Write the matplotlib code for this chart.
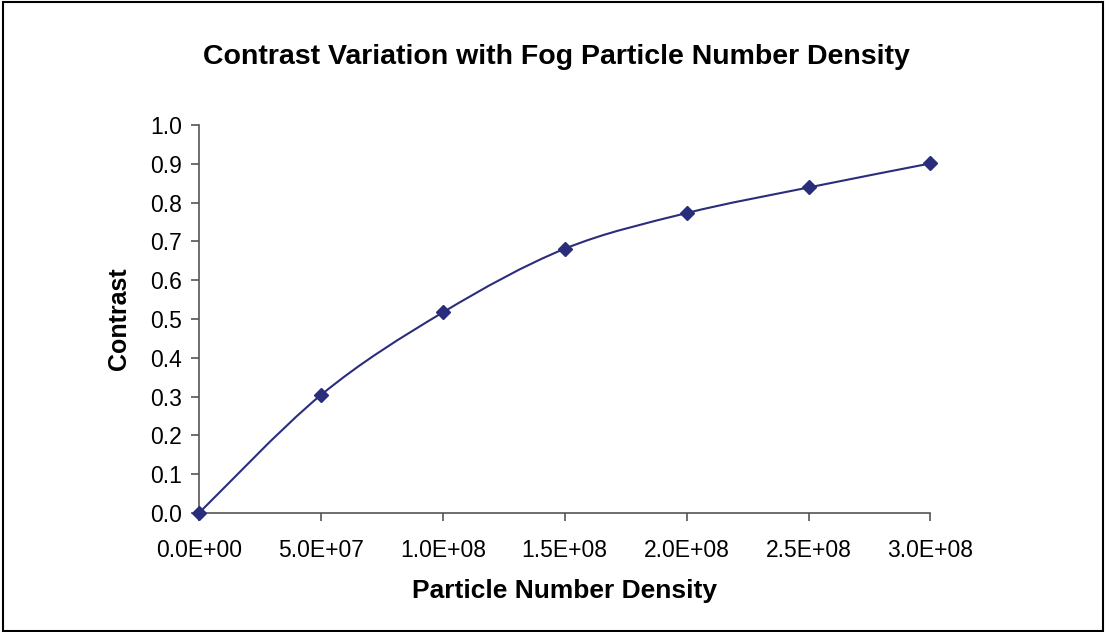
import matplotlib
matplotlib.use("Agg")
import matplotlib.pyplot as plt
from matplotlib.path import Path
from matplotlib.patches import PathPatch, Rectangle
from matplotlib.ticker import FuncFormatter, MultipleLocator

plt.rcParams["font.family"] = ["Liberation Sans", "DejaVu Sans"]

# データ
density = [0, 5.0e7, 1.0e8, 1.5e8, 2.0e8, 2.5e8, 3.0e8]
contrast = [0.0, 0.304, 0.517, 0.681, 0.773, 0.839, 0.901]

title = "Contrast Variation with Fog Particle Number Density"
xlabel = "Particle Number Density"
ylabel = "Contrast"

line_color = "#2a2d7c"
axis_color = "#555555"

fig = plt.figure(figsize=(11.06, 6.32), dpi=100)
ax = fig.add_axes([0.1799, 0.1883, 0.8413 - 0.1799, 0.8022 - 0.1883])

# Excel風のスムージング線 (Catmull-Rom -> ベジェ)
n = len(density)
verts = [(density[0], contrast[0])]
codes = [Path.MOVETO]
for i in range(n - 1):
    p0 = (density[max(i - 1, 0)], contrast[max(i - 1, 0)])
    p1 = (density[i], contrast[i])
    p2 = (density[i + 1], contrast[i + 1])
    p3 = (density[min(i + 2, n - 1)], contrast[min(i + 2, n - 1)])
    c1 = (p1[0] + (p2[0] - p0[0]) / 6, p1[1] + (p2[1] - p0[1]) / 6)
    c2 = (p2[0] - (p3[0] - p1[0]) / 6, p2[1] - (p3[1] - p1[1]) / 6)
    verts += [c1, c2, p2]
    codes += [Path.CURVE4] * 3
ax.add_patch(PathPatch(Path(verts, codes), fill=False, edgecolor=line_color,
                       linewidth=1.5, clip_on=False))

ax.plot(density, contrast, linestyle="none", marker="D", markersize=7,
        color=line_color, clip_on=False, zorder=3)

ax.set_xlim(0, 3.0e8)
ax.set_ylim(0, 1.0)
ax.xaxis.set_major_locator(MultipleLocator(5.0e7))
ax.yaxis.set_major_locator(MultipleLocator(0.1))
ax.xaxis.set_major_formatter(FuncFormatter(lambda v, p: f"{v:.1E}"))
ax.yaxis.set_major_formatter(FuncFormatter(lambda v, p: f"{v:.1f}"))

for s in ["top", "right"]:
    ax.spines[s].set_visible(False)
for s in ["left", "bottom"]:
    ax.spines[s].set_color(axis_color)
    ax.spines[s].set_linewidth(1.2)

ax.tick_params(axis="both", direction="out", length=6, width=1.2,
               color=axis_color, labelsize=16.5, labelcolor="black")
ax.tick_params(axis="x", pad=13)
ax.tick_params(axis="y", pad=6)

ax.set_xlabel(xlabel, fontsize=19, fontweight="bold", labelpad=12)
ax.set_ylabel(ylabel, fontsize=18, fontweight="bold", labelpad=14)
fig.text(0.503, 0.91, title, fontsize=20.5, fontweight="bold",
         ha="center", va="center")

# 外枠
fig.patches.append(Rectangle((0.003, 0.001), 0.994, 0.996, transform=fig.transFigure,
                             fill=False, edgecolor="black", linewidth=1.5))

fig.savefig("out.png", dpi=100)
